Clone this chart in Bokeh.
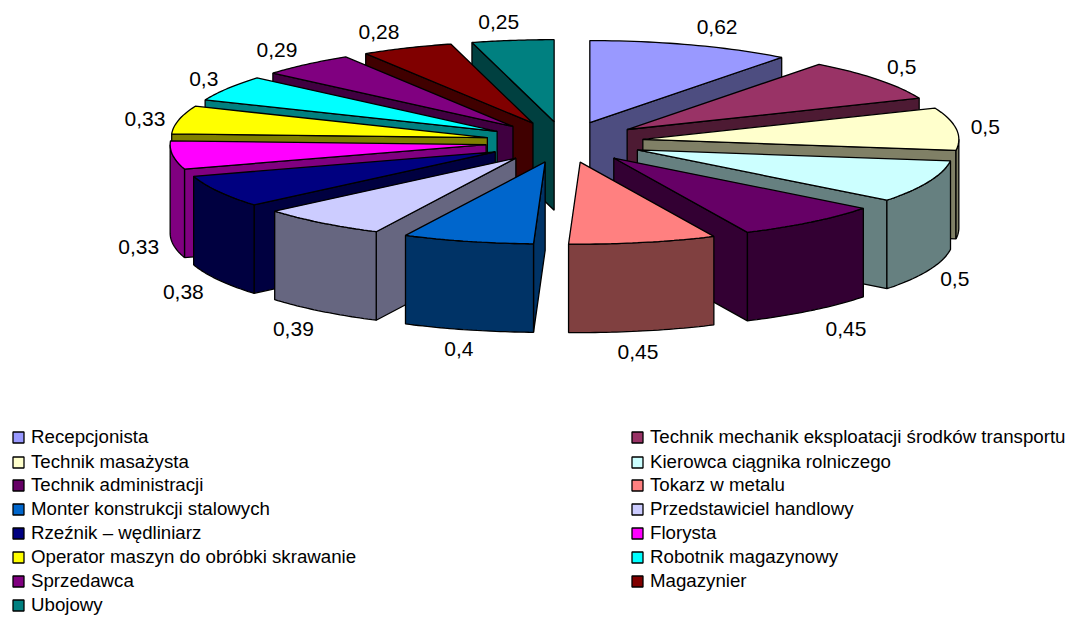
import math
from bokeh.embed import file_html
from bokeh.models import Range1d
from bokeh.plotting import figure
from bokeh.resources import INLINE

categories = ["Recepcjonista", "Technik mechanik eksploatacji środków transportu",
              "Technik masażysta", "Kierowca ciągnika rolniczego",
              "Technik administracji", "Tokarz w metalu",
              "Monter konstrukcji stalowych", "Przedstawiciel handlowy",
              "Rzeźnik – wędliniarz", "Florysta",
              "Operator maszyn do obróbki skrawanie", "Robotnik magazynowy",
              "Sprzedawca", "Magazynier", "Ubojowy"]
values = [0.62, 0.5, 0.5, 0.5, 0.45, 0.45, 0.4, 0.39, 0.38, 0.33, 0.33, 0.3, 0.29, 0.28, 0.25]
value_labels = ["0,62", "0,5", "0,5", "0,5", "0,45", "0,45", "0,4", "0,39", "0,38",
                "0,33", "0,33", "0,3", "0,29", "0,28", "0,25"]
top_colors = ["#9999FF", "#993366", "#FFFFCC", "#CCFFFF", "#660066", "#FF8080", "#0066CC",
              "#CCCCFF", "#000080", "#FF00FF", "#FFFF00", "#00FFFF", "#800080", "#800000", "#008080"]
side_colors = ["#4D4D80", "#4D1A33", "#808066", "#668080", "#330033", "#804040", "#003366",
               "#666680", "#000040", "#800080", "#808000", "#008080", "#400040", "#400000", "#004040"]

# projection of the pie, in page pixels
CX, CY = 564.0, 141.5
RX, RY = 316.0, 82.0
EXPLODE = 0.25
DEPTH = 88.5
# label offset from the outer rim of its slice
label_nudge = [(26, -18), (24, -13), (29, -2), (26, 9), (35, 18), (-5, 21), (-9, 19), (-28, 18),
               (-35, 12), (-34, 3), (-34, -1), (-24, -9), (-30, -14), (-28, -16), (-14, -18)]

p = figure(width=1072, height=617, output_backend="svg", toolbar_location=None,
           x_range=Range1d(0, 1072), y_range=Range1d(617, 0), min_border=0)
p.axis.visible = False
p.grid.visible = False
p.outline_line_color = None

total = sum(values)
slices = []
acc = 0.0
for i, v in enumerate(values):
    a0 = acc / total * 2 * math.pi
    acc += v
    a1 = acc / total * 2 * math.pi
    m = (a0 + a1) / 2
    ax = CX + EXPLODE * RX * math.sin(m)
    ay = CY - EXPLODE * RY * math.cos(m)
    slices.append((i, a0, a1, m, ax, ay))


def rim(ax, ay, t):
    return ax + RX * math.sin(t), ay - RY * math.cos(t)


def arc(ax, ay, t0, t1, n=28):
    return [rim(ax, ay, t0 + (t1 - t0) * k / n) for k in range(n + 1)]


def face(pts):
    return [q[0] for q in pts], [q[1] for q in pts]


xs, ys, fills = [], [], []
for i, a0, a1, m, ax, ay in sorted(slices, key=lambda s: -math.cos(s[3])):
    # radial cut faces turned to the viewer
    for t, show in ((a1, math.sin(a1) > 0.005), (a0, math.sin(a0) < -0.005)):
        if show:
            ex, ey = rim(ax, ay, t)
            fx, fy = face([(ax, ay), (ex, ey), (ex, ey + DEPTH), (ax, ay + DEPTH)])
            xs.append(fx); ys.append(fy); fills.append(side_colors[i])
    # outer wall, front half only
    lo, hi = max(a0, math.pi / 2), min(a1, 3 * math.pi / 2)
    if hi > lo:
        upper = arc(ax, ay, lo, hi)
        lower = [(x, y + DEPTH) for x, y in reversed(upper)]
        fx, fy = face(upper + lower)
        xs.append(fx); ys.append(fy); fills.append(side_colors[i])
    fx, fy = face([(ax, ay)] + arc(ax, ay, a0, a1))
    xs.append(fx); ys.append(fy); fills.append(top_colors[i])

p.patches(xs, ys, fill_color=fills, line_color="black", line_width=1.3)

# data labels
lx, ly = [], []
for (i, a0, a1, m, ax, ay), (nx, ny) in zip(slices, label_nudge):
    x, y = rim(ax, ay, m)
    if math.cos(m) < 0:
        y += DEPTH
    lx.append(x + nx)
    ly.append(y + ny)
p.text(lx, ly, text=value_labels, text_font={"value": "Liberation Sans"}, text_font_size="21px",
       text_color="black", text_align="center", text_baseline="middle")

# legend
legend_rows = [437, 462, 485, 509, 533, 557, 581, 605]
legend_cols = [(18, 30.5), (637, 649.5)]
sx, sy, sc, tx, ty, tt = [], [], [], [], [], []
for k, name in enumerate(categories):
    sw, txt = legend_cols[k % 2]
    row = legend_rows[k // 2]
    sx.append(sw); sy.append(row); sc.append(top_colors[k])
    tx.append(txt); ty.append(row - 1.5); tt.append(name)
p.rect(sx, sy, width=11, height=11, fill_color=sc, line_color="black", line_width=1.3)
p.text(tx, ty, text=tt, text_font={"value": "Liberation Sans"}, text_font_size="18.7px",
       text_color="black", text_align="left", text_baseline="middle")

open("out.html", "w").write(file_html(p, INLINE))
